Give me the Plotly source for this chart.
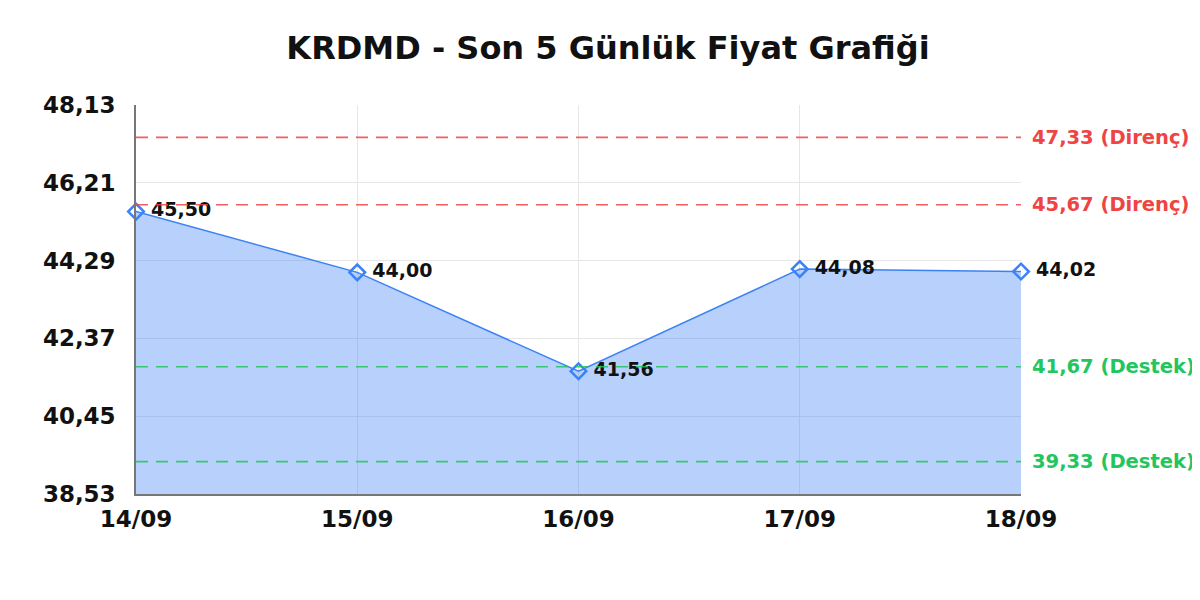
import plotly.graph_objects as go

# veriler
dates = ["14/09", "15/09", "16/09", "17/09", "18/09"]
prices = [45.50, 44.00, 41.56, 44.08, 44.02]
y_ticks = [38.53, 40.45, 42.37, 44.29, 46.21, 48.13]
resistance = [47.33, 45.67]
support = [41.67, 39.33]

def tr(v):
    return f"{v:.2f}".replace(".", ",")

xs = list(range(len(dates)))
FONT = "DejaVu Sans"

fig = go.Figure()
fig.add_trace(go.Scatter(
    x=xs, y=prices,
    mode="lines+markers+text",
    fill="tozeroy",
    fillcolor="rgba(59,130,246,0.37)",
    line=dict(color="#3b82f6", width=1.5),
    marker=dict(symbol="diamond-open", size=12, color="#3b82f6", line=dict(width=2.5)),
    text=[" " + tr(p) for p in prices],
    textposition="middle right",
    textfont=dict(family=FONT, size=19, color="#111111", weight="bold"),
    cliponaxis=False,
    showlegend=False,
    hoverinfo="skip",
))

shapes = []
annotations = []
for lvl, col, name in [(r, "#ef4444", "Direnç") for r in resistance] + [(s, "#22c55e", "Destek") for s in support]:
    shapes.append(dict(type="line", xref="paper", x0=0, x1=1, yref="y", y0=lvl, y1=lvl,
                       line=dict(color=col, width=1.6, dash="12px,8px"), opacity=0.85))
    annotations.append(dict(xref="paper", x=1.0, xanchor="left", xshift=9, yref="y", y=lvl,
                            text=f"{tr(lvl)} ({name})", showarrow=False,
                            font=dict(family=FONT, size=19.5, color=col, weight="bold")))

fig.update_layout(
    width=1200, height=600,
    margin=dict(l=128, r=187, t=97, b=114),
    paper_bgcolor="white", plot_bgcolor="white",
    title=dict(text="KRDMD - Son 5 Günlük Fiyat Grafiği", x=0.5, xanchor="center",
               y=1 - 40 / 600, yanchor="middle",
               font=dict(family=FONT, size=32, color="#111111", weight="bold")),
    font=dict(family=FONT),
    shapes=shapes,
    annotations=annotations,
)
fig.update_xaxes(
    range=[0, 4], tickvals=xs, ticktext=dates,
    showgrid=True, gridcolor="#e6e6e6", gridwidth=1,
    showline=True, linecolor="#777777", linewidth=1.5,
    zeroline=False, ticks="", ticklabelstandoff=4,
    tickfont=dict(family=FONT, size=23, color="#111111", weight="bold"),
)
fig.update_yaxes(
    range=[38.53, 48.13], tickvals=y_ticks, ticktext=[tr(v) for v in y_ticks],
    showgrid=True, gridcolor="#e6e6e6", gridwidth=1,
    showline=True, linecolor="#777777", linewidth=1.5,
    zeroline=False, ticks="", ticklabelstandoff=14,
    tickfont=dict(family=FONT, size=23, color="#111111", weight="bold"),
)

fig.write_html("out.html")
